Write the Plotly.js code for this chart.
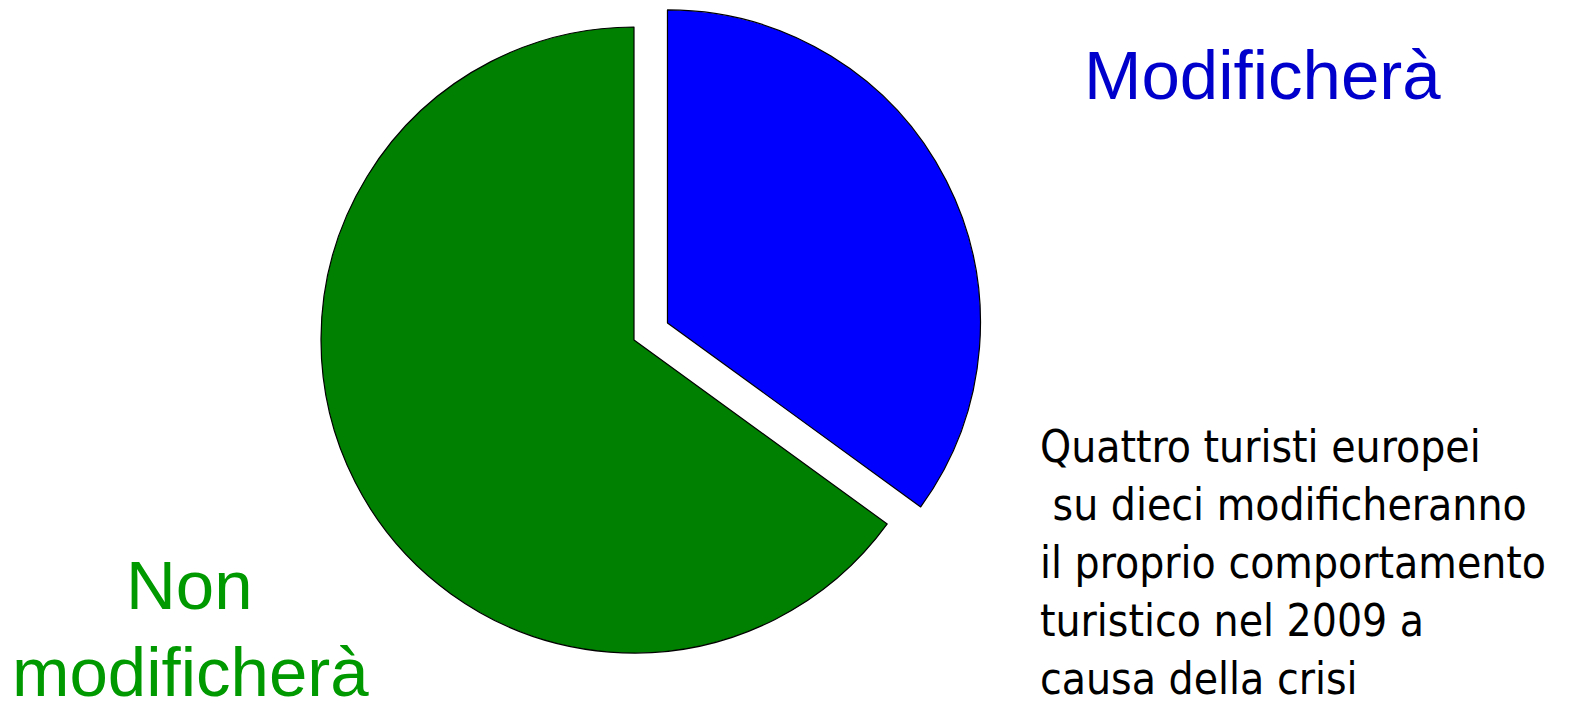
<!DOCTYPE html>
<html>
<head>
<meta charset="utf-8">
<script src="https://cdn.plot.ly/plotly-3.0.1.min.js"></script>
<style>
  html, body { margin: 0; padding: 0; overflow: hidden; background: #fff; width: 1580px; height: 704px; }
  #chart { position: absolute; left: 0; top: -20px; width: 1580px; height: 744px; }
</style>
</head>
<body>
<div id="chart"></div>
<script>
// Data
const categories = ["Modificherà", "Non modificherà"];
const values = [35, 65];
const sliceColors = ["#0000FF", "#008000"];
const pulls = [0.12, 0];
const noteLines = [
  "Quattro turisti europei",
  "\u00A0su dieci modificheranno",
  "il proprio comportamento",
  "turistico nel 2009 a",
  "causa della crisi"
];

// Geometry helpers (div is 1580 x 744, shifted up by 20px)
const W = 1580, H = 744, OFF = 20;
const px = x => x / W;
const py = y => 1 - (y + OFF) / H;

const cx = 634, cy = 340, r = 313;
const half = r * (1 + Math.max(...pulls));

const trace = {
  type: "pie",
  labels: categories,
  values: values,
  sort: false,
  direction: "clockwise",
  rotation: 0,
  pull: pulls,
  textinfo: "none",
  hoverinfo: "label+percent",
  showlegend: false,
  marker: { colors: sliceColors, line: { color: "#000000", width: 1.2 } },
  domain: {
    x: [px(cx - half - 60), px(cx + half + 60)],
    y: [py(cy + half), py(cy - half)]
  }
};

const bigFont = "Liberation Sans, Arial, sans-serif";
const annotations = [
  { text: "Modificherà", x: px(1262), y: py(75), xanchor: "center", yanchor: "middle",
    font: { family: bigFont, size: 69, color: "#0000CC" } },
  { text: "Non", x: px(189), y: py(585), xanchor: "center", yanchor: "middle",
    font: { family: bigFont, size: 69, color: "#009900" } },
  { text: "modificherà", x: px(190), y: py(672), xanchor: "center", yanchor: "middle",
    font: { family: bigFont, size: 69, color: "#009900" } }
];
const noteSize = 44;
const baselines = [461.7, 519.6, 577.5, 635.4, 693.3];
noteLines.forEach((t, i) => {
  annotations.push({
    text: t, x: px(1039), y: py(baselines[i] - 0.346 * noteSize), xanchor: "left", yanchor: "middle",
    font: { family: "DejaVu Sans Condensed, DejaVu Sans, sans-serif", size: noteSize, color: "#000000" }
  });
});
annotations.forEach(a => { a.xref = "paper"; a.yref = "paper"; a.showarrow = false; a.borderpad = 0; });

const layout = {
  width: W, height: H,
  margin: { l: 0, r: 0, t: 0, b: 0 },
  paper_bgcolor: "#ffffff",
  plot_bgcolor: "#ffffff",
  showlegend: false,
  annotations: annotations
};

Plotly.newPlot("chart", [trace], layout, { displayModeBar: false });
</script>
</body>
</html>
